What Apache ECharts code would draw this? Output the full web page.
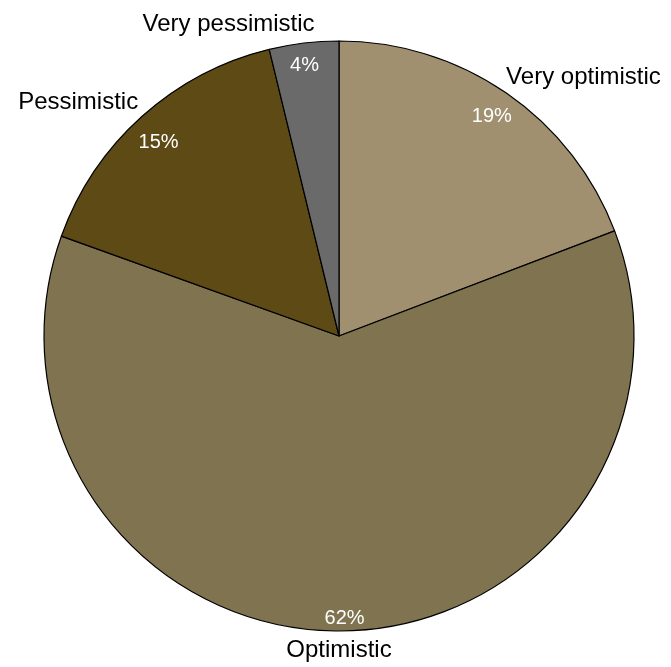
<!DOCTYPE html>
<html><head><meta charset="utf-8">
<script src="https://cdn.jsdelivr.net/npm/echarts@6/dist/echarts.min.js"></script>
<style>html,body{margin:0;padding:0;background:#fff}#c{width:671px;height:667px}</style>
</head><body><div id="c"></div>
<script>
var categories = ['Very optimistic', 'Optimistic', 'Pessimistic', 'Very pessimistic'];
var values = [19.2, 61.3, 15.7, 3.8];
var pctLabels = ['19%', '62%', '15%', '4%'];
var colors = ['#A09070', '#807350', '#5E4A14', '#6A6A6A'];
var nameShift = [[-11, 0], [-3, 0], [9, 0], [13, 0]];
var pctShift = [[-2, 5], [3, 9], [2, 10], [-2, 1]];

var data = categories.map(function (c, i) {
  return { name: c, value: values[i], itemStyle: { color: colors[i] } };
});
var FONT = '"Liberation Sans", Arial, sans-serif';
var chart = echarts.init(document.getElementById('c'));
chart.setOption({
  animation: false,
  series: [{
    type: 'pie',
    center: [339, 336],
    radius: [0, 295],
    startAngle: 90,
    clockwise: true,
    avoidLabelOverlap: false,
    data: data,
    itemStyle: { borderColor: '#000', borderWidth: 1.2 },
    label: {
      show: true, position: 'outside', formatter: '{b}',
      color: '#000', fontSize: 24, fontFamily: FONT,
      distanceToLabelLine: 0
    },
    labelLine: { show: false, length: 19, length2: 0 },
    labelLayout: function (p) {
      var s = nameShift[p.dataIndex];
      var o = { dx: s[0], dy: s[1] };
      if (p.dataIndex === 1) o.align = 'center';
      return o;
    },
    emphasis: { disabled: true }
  }, {
    type: 'pie',
    center: [339, 336],
    radius: [250, 290],
    startAngle: 90,
    clockwise: true,
    silent: true,
    avoidLabelOverlap: false,
    data: data.map(function (d) { return { name: d.name, value: d.value }; }),
    itemStyle: { color: 'rgba(0,0,0,0)', borderWidth: 0 },
    label: {
      show: true, position: 'inside',
      formatter: function (p) { return pctLabels[p.dataIndex]; },
      color: '#fff', fontSize: 20, fontFamily: FONT
    },
    labelLine: { show: false },
    labelLayout: function (p) {
      var s = pctShift[p.dataIndex];
      return { dx: s[0], dy: s[1] };
    },
    emphasis: { disabled: true }
  }]
});
</script></body></html>
